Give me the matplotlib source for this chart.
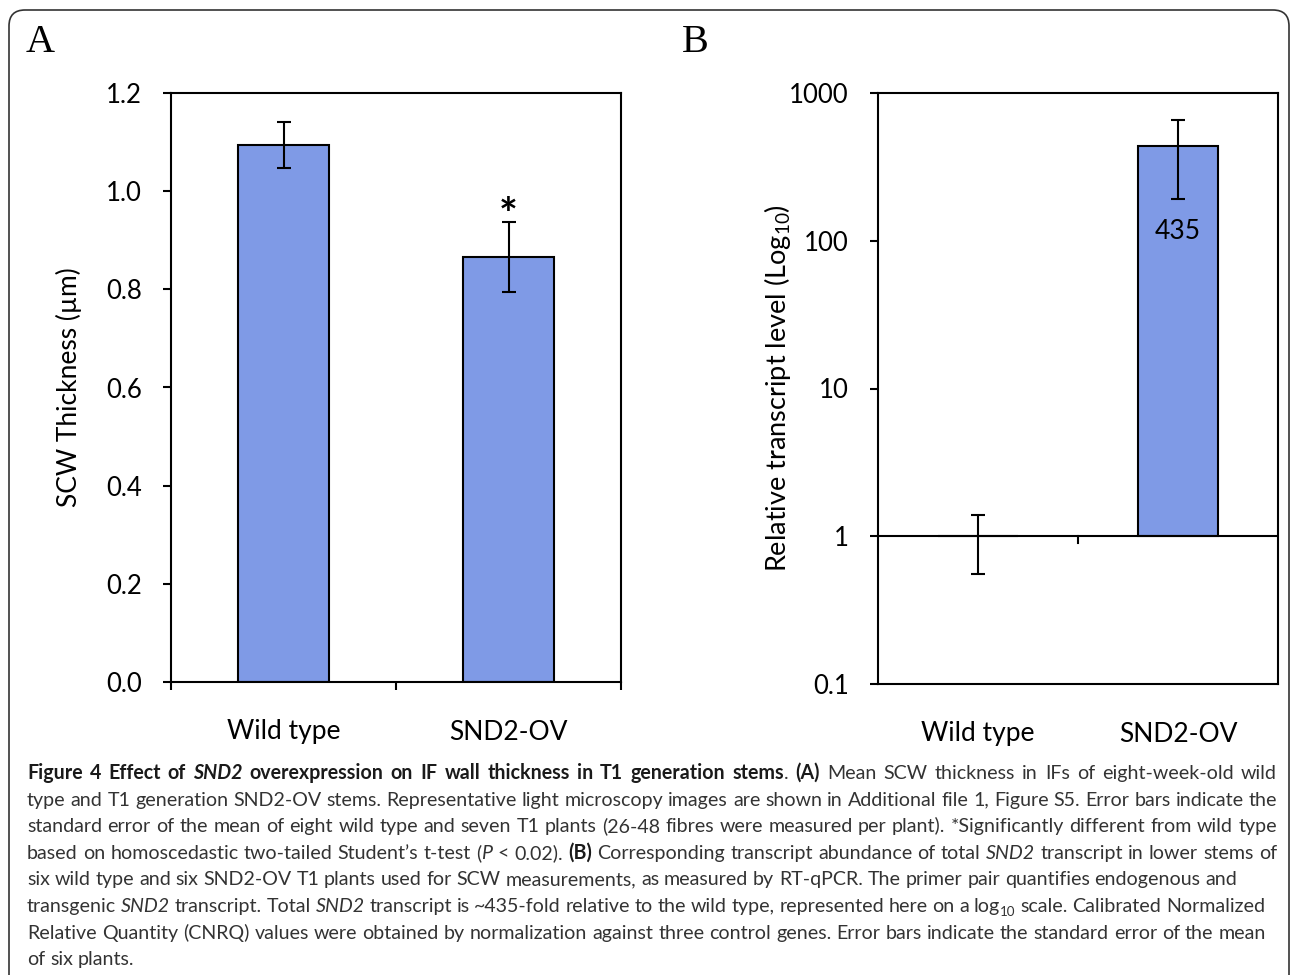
import matplotlib
matplotlib.use('Agg')
import matplotlib.pyplot as plt
from matplotlib.patches import FancyBboxPatch
from matplotlib.transforms import IdentityTransform
from matplotlib.ticker import NullLocator
import numpy as np

W, H = 1290, 975
FONT = 'Lato'
BLUE = '#7f9ae6'
TICK_SIZE = 18.5
LABEL_SIZE = 19

plt.rcParams['font.family'] = [FONT, 'DejaVu Sans']
plt.rcParams['mathtext.fontset'] = 'custom'
plt.rcParams['mathtext.rm'] = FONT
plt.rcParams['mathtext.it'] = FONT + ':italic'

# data
genotypes = ['Wild type', 'SND2-OV']
scw_thickness = [1.094, 0.866]
scw_sem = [0.046, 0.071]
transcript_level = [1, 435]
transcript_err_low = [0.447, 244]
transcript_err_high = [0.39, 219]
log_ticks = [0.1, 1, 10, 100, 1000]
log_tick_labels = ['0.1', '1', '10', '100', '1000']

fig = plt.figure(figsize=(W / 100, H / 100), dpi=100)

# rounded frame round the whole figure
frame = FancyBboxPatch((9, -20), 1280, 975 - 10 + 20,
                       boxstyle='round,pad=0,rounding_size=16',
                       fill=False, edgecolor='#333333', linewidth=1.2,
                       transform=IdentityTransform())
fig.add_artist(frame)

x = np.arange(len(genotypes))

# ---- panel A ----
axA = fig.add_axes([171 / W, 1 - 682 / H, 450 / W, 589 / H])
axA.bar(x, scw_thickness, width=0.405, color=BLUE, edgecolor='black',
        linewidth=1.5, zorder=2)
axA.errorbar(x, scw_thickness, yerr=scw_sem, fmt='none', ecolor='black',
             elinewidth=1.5, capsize=5, capthick=1.5, zorder=3)
axA.set_xlim(-0.5, 1.5)
axA.set_ylim(0, 1.2)
axA.set_yticks(np.arange(0, 1.21, 0.2))
axA.set_yticklabels(['%.1f' % v for v in np.arange(0, 1.21, 0.2)])
axA.set_xticks([-0.5, 0.5, 1.5])
axA.set_xticklabels([])
axA.set_xticks(x, minor=True)
axA.set_xticklabels(genotypes, minor=True)
axA.tick_params(axis='both', which='major', direction='out', length=6,
                width=1.5, labelsize=TICK_SIZE, pad=15)
axA.tick_params(axis='x', which='minor', length=0, labelsize=LABEL_SIZE, pad=27)
for s in axA.spines.values():
    s.set_linewidth(1.5)
axA.set_ylabel('SCW Thickness (µm)', fontsize=LABEL_SIZE)
axA.yaxis.set_label_coords(-0.198, 0.5)
axA.annotate('*', (1, scw_thickness[1] + scw_sem[1]), xytext=(0, -5),
             textcoords='offset points', ha='center', va='baseline',
             fontsize=32, fontweight='bold')

# ---- panel B ----
axB = fig.add_axes([878 / W, 1 - 684 / H, 400 / W, 591 / H])
axB.set_yscale('log')
axB.bar(x, np.array(transcript_level) - 1, bottom=1, width=0.4, color=BLUE,
        edgecolor='black', linewidth=1.5, zorder=2)
axB.errorbar(x, transcript_level, yerr=[transcript_err_low, transcript_err_high],
             fmt='none', ecolor='black', elinewidth=1.5, capsize=5,
             capthick=1.5, zorder=3)
axB.axhline(1, color='black', linewidth=1.5, zorder=3)
axB.plot([0.5, 0.5], [1, 0.9], color='black', linewidth=1.5, clip_on=False)
axB.set_xlim(-0.5, 1.5)
axB.set_ylim(0.1, 1000)
axB.set_yticks(log_ticks)
axB.set_yticklabels(log_tick_labels)
axB.yaxis.set_minor_locator(NullLocator())
axB.set_xticks(x)
axB.set_xticklabels(genotypes)
axB.tick_params(axis='y', direction='out', length=6, width=1.5,
                labelsize=TICK_SIZE, pad=15)
axB.tick_params(axis='x', length=0, labelsize=LABEL_SIZE, pad=27)
for s in axB.spines.values():
    s.set_linewidth(1.5)
axB.set_ylabel(r'Relative transcript level (Log$_{\mathregular{10}}$)',
               fontsize=LABEL_SIZE + 0.5)
axB.yaxis.set_label_coords(-0.213, 0.5)
axB.annotate(str(transcript_level[1]), (1, transcript_level[1]), xytext=(0, -61),
             textcoords='offset points', ha='center', va='center',
             fontsize=TICK_SIZE + 0.5)

# panel letters
fig.text(40 / W, 1 - 42 / H, 'A', family='Liberation Serif', fontsize=29,
         ha='center', va='center')
fig.text(695 / W, 1 - 42 / H, 'B', family='Liberation Serif', fontsize=29,
         ha='center', va='center')

# ---- caption, justified word by word ----
caption = [
    [('Figure 4 Effect of ', 'b'), ('SND2', 'bi'),
     (' overexpression on IF wall thickness in T1 generation stems', 'b'),
     ('. ', 'n'), ('(A)', 'b'),
     (' Mean SCW thickness in IFs of eight-week-old wild', 'n')],
    [('type and T1 generation SND2-OV stems. Representative light microscopy '
      'images are shown in Additional file 1, Figure S5. Error bars indicate the', 'n')],
    [('standard error of the mean of eight wild type and seven T1 plants '
      '(26-48 fibres were measured per plant). *Significantly different from wild type', 'n')],
    [('based on homoscedastic two-tailed Student\u2019s t-test (', 'n'), ('P', 'i'),
     (' < 0.02). ', 'n'), ('(B)', 'b'),
     (' Corresponding transcript abundance of total ', 'n'), ('SND2', 'i'),
     (' transcript in lower stems of', 'n')],
    [('six wild type and six SND2-OV T1 plants used for SCW measurements, '
      'as measured by RT-qPCR. The primer pair quantifies endogenous and', 'n')],
    [('transgenic ', 'n'), ('SND2', 'i'), (' transcript. Total ', 'n'), ('SND2', 'i'),
     (' transcript is ~435-fold relative to the wild type, represented here on a log', 'n'),
     ('10', 's'), (' scale. Calibrated Normalized', 'n')],
    [('Relative Quantity (CNRQ) values were obtained by normalization against '
      'three control genes. Error bars indicate the standard error of the mean', 'n')],
    [('of six plants.', 'n')],
]
line_right = [1277, 1277, 1277, 1277, 1237, 1265, 1266, None]
CAP_LEFT = 27
CAP_BASE = 779
CAP_STEP = 26.6
CAP_COLOR = '#333333'

renderer = fig.canvas.get_renderer()


def style_kw(st, size):
    kw = dict(family=FONT, fontsize=size, color=CAP_COLOR)
    if 'b' in st:
        kw['weight'] = 'bold'
        kw['color'] = '#1a1a1a'
    if 'i' in st:
        kw['style'] = 'italic'
    if st == 's':
        kw['fontsize'] = size * 0.68
    return kw


def width_of(s, st, size):
    t = fig.text(0, 0, s, **style_kw(st, size))
    w = t.get_window_extent(renderer).width
    t.remove()
    return w


def split_words(runs):
    words, cur = [], []
    for text, st in runs:
        parts = text.split(' ')
        for i, p in enumerate(parts):
            if i > 0 and cur:
                words.append(cur)
                cur = []
            if p:
                cur.append((p, st))
    if cur:
        words.append(cur)
    return words


# pick a size so the second line fills its width naturally
base = 12
nat = width_of(caption[1][0][0], 'n', base)
cap_size = base * (1277 - CAP_LEFT) / nat * 0.995
space_w = width_of('a a', 'n', cap_size) - width_of('aa', 'n', cap_size)

for li, runs in enumerate(caption):
    words = split_words(runs)
    widths = [[width_of(p, st, cap_size) for p, st in w] for w in words]
    total = sum(sum(w) for w in widths)
    if line_right[li] is None or len(words) < 2:
        gap = space_w
    else:
        gap = (line_right[li] - CAP_LEFT - total) / (len(words) - 1)
    xpos = CAP_LEFT
    ybase = CAP_BASE + li * CAP_STEP
    for w, ws in zip(words, widths):
        for (p, st), pw in zip(w, ws):
            dy = 4 if st == 's' else 0
            fig.text(xpos / W, 1 - (ybase + dy) / H, p, ha='left', va='baseline',
                     **style_kw(st, cap_size))
            xpos += pw
        xpos += gap

fig.savefig('out.png', dpi=100)
